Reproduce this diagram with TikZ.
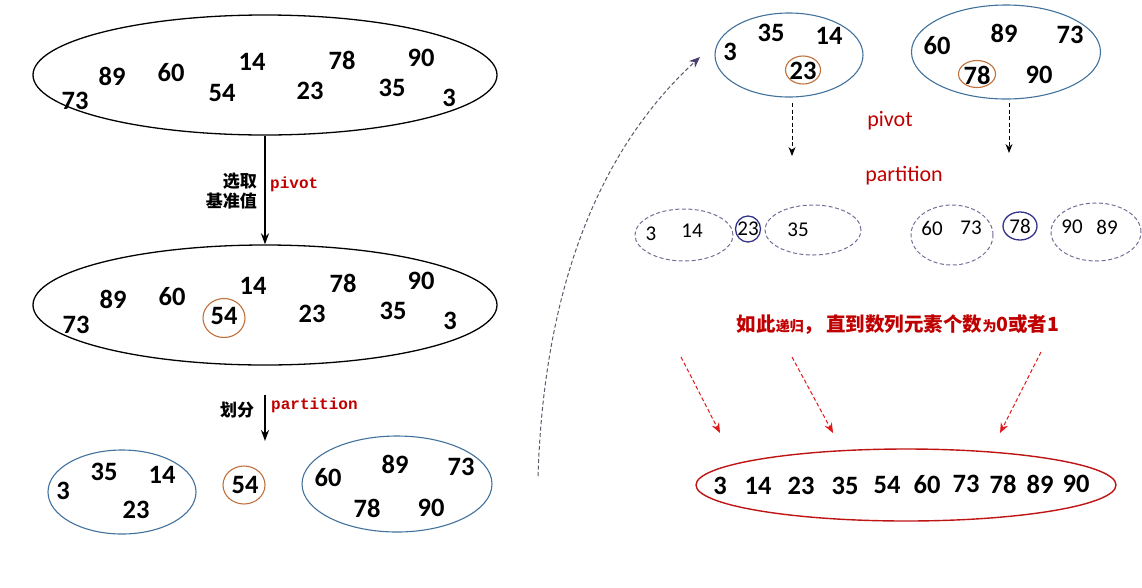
\documentclass[tikz,border=0pt]{standalone}
\usepackage{fontspec}
\setmainfont{Carlito}
\newfontfamily\cjk{Noto Sans CJK SC}
\newfontfamily\monof{Liberation Mono}
\usetikzlibrary{shapes.geometric,arrows.meta}
\definecolor{eblue}{HTML}{41719C}
\definecolor{ebrown}{HTML}{C0703A}
\definecolor{enavy}{HTML}{34338A}
\definecolor{epurp}{HTML}{776C98}
\definecolor{tred}{HTML}{C00000}
\definecolor{ared}{HTML}{E01818}
\definecolor{cgray}{HTML}{5A5A6A}
\definecolor{ctip}{HTML}{4A3F6E}
\tikzset{
  big/.style={ellipse,draw=black,line width=1.3pt,inner sep=0},
  blueell/.style={ellipse,draw=eblue,line width=1.1pt,inner sep=0},
  dashell/.style={ellipse,draw=epurp,dash pattern=on 4pt off 2.5pt,line width=1pt,inner sep=0},
  redell/.style={ellipse,draw=ared!85!black,line width=1.4pt,inner sep=0},
  pv/.style={ellipse,draw=ebrown,line width=1.1pt,inner sep=0},
  pvn/.style={ellipse,draw=enavy,line width=1.3pt,inner sep=0},
  num/.style={font=\fontsize{26.5}{28}\selectfont\bfseries,inner sep=0},
  numr/.style={font=\fontsize{21}{23}\selectfont,inner sep=0},
  solidarr/.style={-{Stealth[length=11pt,width=8pt]},line width=1.8pt},
  dasharr/.style={dash pattern=on 4pt off 2.5pt,-{Stealth[length=9pt,width=7pt]},line width=1pt},
  curvearr/.style={draw=cgray,dash pattern=on 4pt off 2.5pt,-{Stealth[length=11pt,width=9pt,color=ctip]},line width=1pt},
  redarr/.style={draw=ared,dash pattern=on 4pt off 2.5pt,-{Stealth[length=10pt,width=8pt]},line width=1pt},
}
\begin{document}
\begin{tikzpicture}[x=1pt,y=-1pt]
\useasboundingbox (0,0) rectangle (1142,587);
% top ellipse
\node[big,minimum width=464pt,minimum height=120pt] (e1) at (265,75) {};
\node[num] (a73) at (75,101) {73};
\node[num] (a89) at (112,76) {89};
\node[num] (a60) at (171,73) {60};
\node[num] (a14) at (252,62) {14};
\node[num] (a54) at (222,93) {54};
\node[num] (a78) at (342,60) {78};
\node[num] (a23) at (310,91) {23};
\node[num] (a90) at (421,58) {90};
\node[num] (a35) at (392,88) {35};
\node[num] (a3) at (449,98) {3};
% second ellipse
\node[big,minimum width=464pt,minimum height=120pt] (e2) at (265,305) {};
\node[num] (b73) at (76,325) {73};
\node[num] (b89) at (113,299) {89};
\node[num] (b60) at (172,297) {60};
\node[num] (b14) at (253,286) {14};
\node[pv,minimum width=42pt,minimum height=39pt] (bc) at (224,318) {};
\node[num] (b54) at (224,316) {54};
\node[num] (b78) at (343,283) {78};
\node[num] (b23) at (312,314) {23};
\node[num] (b90) at (421,281) {90};
\node[num] (b35) at (393,311) {35};
\node[num] (b3) at (450,321) {3};
% arrow 1
\draw[solidarr] (e1.south) -- (e2.north);
\node[font=\cjk\bfseries\fontsize{17}{20}\selectfont,align=right,inner sep=0,anchor=east] (l1) at (257,191) {选取\\基准值};
\node[font=\monof\bfseries\fontsize{16}{18}\selectfont,text=tred,inner sep=0,anchor=west] (l2) at (270,184) {pivot};
% arrow 2
\coordinate (a2s) at (265,395);
\coordinate (a2e) at (265,441);
\draw[solidarr] (a2s) -- (a2e);
\node[font=\cjk\bfseries\fontsize{17}{20}\selectfont,inner sep=0] (l3) at (237,410) {划分};
\node[font=\monof\bfseries\fontsize{16}{18}\selectfont,text=tred,inner sep=0,anchor=west] (l4) at (271,405) {partition};
% bottom left group
\node[blueell,minimum width=148pt,minimum height=84pt] (c1) at (122,492) {};
\node[num] (c3) at (63,491) {3};
\node[num] (c35) at (104,472) {35};
\node[num] (c14) at (162,475) {14};
\node[num] (c23) at (136,510) {23};
\node[pv,minimum width=42pt,minimum height=38pt] (cc) at (244,485) {};
\node[num] (c54) at (245,485) {54};
\node[blueell,minimum width=190pt,minimum height=96pt] (c2) at (397,484) {};
\node[num] (c60) at (328,478) {60};
\node[num] (c89) at (395,464) {89};
\node[num] (c73) at (461,467) {73};
\node[num] (c78) at (367,508) {78};
\node[num] (c90) at (431,508) {90};
% curved arrow
\coordinate (cs) at (538,476);
\coordinate (ce) at (700,57);
\draw[curvearr] (cs) .. controls (545,260) and (615,135) .. (ce);
% top right groups
\node[blueell,minimum width=148pt,minimum height=84pt] (d1) at (789,55) {};
\node[num] (d3) at (730,52) {3};
\node[num] (d35) at (771,33) {35};
\node[num] (d14) at (829,36) {14};
\node[pv,minimum width=35pt,minimum height=28pt] (dc) at (803,70) {};
\node[num] (d23) at (803,71) {23};
\node[blueell,minimum width=189pt,minimum height=94pt] (d2) at (1006,52) {};
\node[num] (d60) at (937,46) {60};
\node[num] (d89) at (1004,33) {89};
\node[num] (d73) at (1070,35) {73};
\node[pv,minimum width=37pt,minimum height=27pt] (dc2) at (977,74) {};
\node[num] (d78) at (977,75) {78};
\node[num] (d90) at (1039,75) {90};
% dashed arrows
\coordinate (p1s) at (792,103);
\coordinate (p1e) at (792,156);
\coordinate (p2s) at (1009,103);
\coordinate (p2e) at (1009,153);
\draw[dasharr] (p1s) -- (p1e);
\draw[dasharr] (p2s) -- (p2e);
\node[font=\fontsize{22}{24}\selectfont,text=tred,inner sep=0] (t1) at (890,121) {pivot};
\node[font=\fontsize{22}{24}\selectfont,text=tred,inner sep=0] (t2) at (904,176) {partition};
% partition row
\node[dashell,minimum width=98pt,minimum height=52pt] (f1) at (684,235) {};
\node[numr] (f3) at (651,234) {3};
\node[numr] (f14) at (692,231) {14};
\node[pvn,minimum width=25pt,minimum height=26pt] (fc) at (748,229) {};
\node[numr] (f23) at (748,229) {23};
\node[dashell,minimum width=96pt,minimum height=50pt] (f2) at (813,230) {};
\node[numr] (f35) at (798,230) {35};
\node[dashell,minimum width=82pt,minimum height=60pt] (g1) at (952,235) {};
\node[numr] (g60) at (932,228) {60};
\node[numr] (g73) at (971,228) {73};
\node[pvn,minimum width=34pt,minimum height=28pt] (gc) at (1020,226) {};
\node[numr] (g78) at (1020,226) {78};
\node[dashell,minimum width=90pt,minimum height=58pt] (g2) at (1096,232) {};
\node[numr] (g90) at (1072,227) {90};
\node[numr] (g89) at (1107,227) {89};
% recursion text
\node[font=\cjk\bfseries\fontsize{19.5}{22}\selectfont,text=tred,inner sep=0] (rt) at (898,325) {如此{\fontsize{14}{15}\selectfont 递归}，\,直到数列元素个数{\fontsize{14}{15}\selectfont 为}0或者1};
% red arrows
\coordinate (r1s) at (681,357);
\coordinate (r1e) at (720,433);
\coordinate (r2s) at (792,357);
\coordinate (r2e) at (833,433);
\coordinate (r3s) at (1041,352);
\coordinate (r3e) at (1000,433);
\draw[redarr] (r1s) -- (r1e);
\draw[redarr] (r2s) -- (r2e);
\draw[redarr] (r3s) -- (r3e);
% final sorted ellipse
\node[redell,minimum width=420pt,minimum height=72pt] (h) at (906,485) {};
\node[num] (h1) at (720,486) {3};
\node[num] (h2) at (758,486) {14};
\node[num] (h3) at (801,486) {23};
\node[num] (h4) at (845,486) {35};
\node[num] (h5) at (887,485) {54};
\node[num] (h6) at (927,485) {60};
\node[num] (h7) at (966,484) {73};
\node[num] (h8) at (1003,484) {78};
\node[num] (h9) at (1040,484) {89};
\node[num] (h10) at (1076,484) {90};
\end{tikzpicture}
\end{document}
